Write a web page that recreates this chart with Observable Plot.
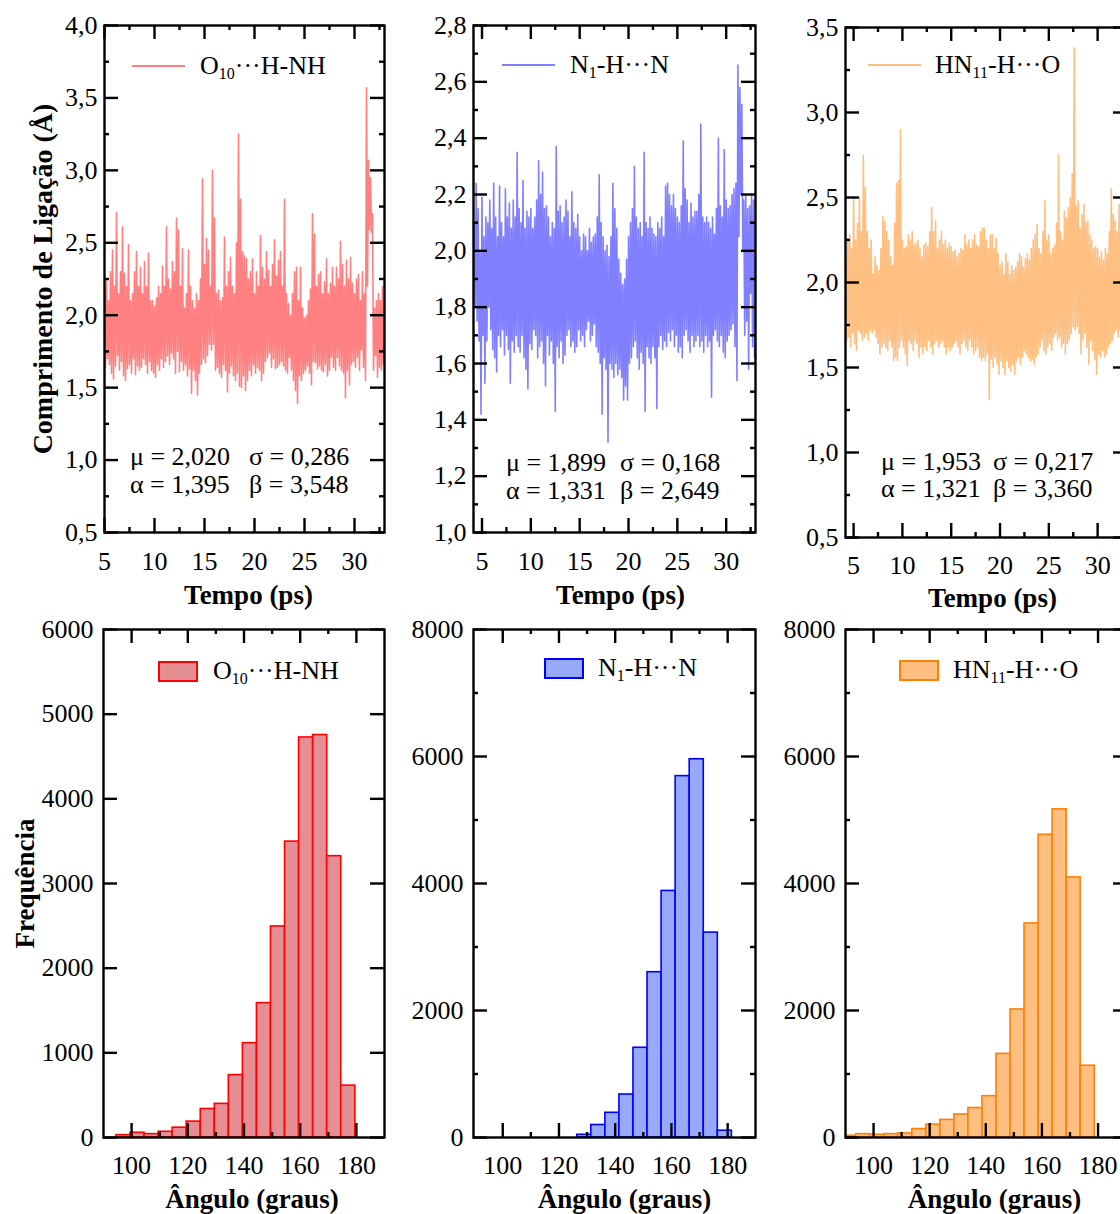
<!DOCTYPE html>
<html><head><meta charset="utf-8">
<script src="https://cdn.jsdelivr.net/npm/d3@7"></script>
<script src="https://cdn.jsdelivr.net/npm/@observablehq/plot@0.6"></script>
<style>
html,body{margin:0;padding:0;background:#fff;overflow:hidden;}
#root{position:relative;width:1120px;height:1214px;overflow:hidden;font-family:"Liberation Serif","Times New Roman",serif;color:#000;}
.sw{position:absolute;box-sizing:border-box;}
.lbl{position:absolute;font-size:26px;line-height:26px;white-space:nowrap;}
.lbl sub{font-size:16px;vertical-align:-5px;line-height:0;}
</style></head><body><div id="root"></div>
<script>
// ---------- time series (bond length, Å): per 0.2 ps step, upper and lower excursion ----------
const tsStep = 0.2;
const o10Start = 5.0;
const o10Hi = [2.20,2.24,2.10,2.30,2.45, 2.20,2.71,2.15,2.30,2.61, 2.29,2.20,2.49,2.10,2.15, 2.30,2.44,2.20,2.33,2.15,
  2.37,2.20,2.43,2.10,2.10, 2.06,2.12,2.20,2.15,2.34, 2.20,2.61,2.25,2.18,2.37, 2.30,2.67,2.59,2.20,2.46,
  2.05,2.15,2.45,2.20,2.10, 2.05,2.15,2.10,2.25,2.94, 2.35,2.53,2.45,2.20,3.00, 2.67,2.15,2.17,2.10,2.12,
  2.54,2.20,2.30,2.40,2.20, 2.15,2.50,3.25,2.80,2.44, 2.41,2.39,2.25,2.30,2.39, 2.15,2.30,2.20,2.55,2.33,
  2.25,2.44,2.31,2.20,2.35, 2.52,2.27,2.38,2.44,2.20, 2.80,2.15,2.08,2.00,2.15, 2.30,2.33,2.10,2.33,2.05,
  1.98,2.00,2.10,2.18,2.70, 2.56,2.20,2.28,2.30,2.15, 2.23,2.39,2.15,2.22,2.33, 2.20,2.33,2.25,2.51,2.35,
  2.20,2.38,2.25,2.40,2.22, 2.15,2.25,2.28,2.10,2.30, 2.15,3.57,3.07,2.95,2.70, 2.05,2.10,2.15,2.10,2.20];
const o10Lo = [1.64,1.70,1.66,1.60,1.56, 1.65,1.72,1.62,1.68,1.58, 1.55,1.63,1.66,1.60,1.70, 1.59,1.65,1.62,1.64,1.70,
  1.66,1.60,1.68,1.62,1.60, 1.57,1.66,1.62,1.70,1.64, 1.68,1.72,1.66,1.74,1.70, 1.60,1.75,1.61,1.68,1.62,
  1.66,1.58,1.63,1.46,1.62, 1.55,1.45,1.60,1.66,1.70, 1.67,1.72,1.80,1.76,1.80, 1.62,1.64,1.60,1.57,1.66,
  1.62,1.47,1.60,1.65,1.58, 1.55,1.60,1.51,1.50,1.58, 1.48,1.55,1.62,1.58,1.66, 1.60,1.64,1.62,1.55,1.60,
  1.68,1.71,1.74,1.64,1.70, 1.63,1.64,1.66,1.68,1.65, 1.62,1.60,1.71,1.62,1.55, 1.48,1.39,1.58,1.55,1.60,
  1.62,1.65,1.60,1.52,1.68, 1.67,1.63,1.65,1.62,1.61, 1.66,1.58,1.62,1.71,1.64, 1.62,1.71,1.65,1.62,1.60,
  1.43,1.62,1.52,1.66,1.68, 1.64,1.71,1.62,1.76,1.64, 1.55,2.20,2.59,2.57,1.62, 1.72,1.57,1.64,1.62,1.66];

const n1Start = 4.2;
const n1Hi = [2.10,2.24,2.15,2.00,2.19, 2.05,2.12,2.10,2.18,2.08, 2.24,2.12,2.05,2.23,2.10, 2.05,2.22,2.12,2.17,2.08,
  2.18,2.12,2.35,2.15,2.10, 2.25,2.08,2.14,2.12,2.15, 2.08,2.12,2.18,2.32,2.20, 2.28,2.15,2.16,2.12,2.05,
  2.10,2.08,2.37,2.14,2.16, 2.10,2.12,2.18,2.14,2.05, 2.21,2.10,2.08,2.13,2.05, 2.00,2.06,2.05,2.00,2.08,
  2.03,2.05,2.06,2.12,2.27, 2.10,2.05,2.00,2.02,1.98, 2.05,2.24,2.15,2.08,1.97, 1.92,1.88,1.90,1.97,2.05,
  2.10,2.15,2.30,2.12,2.08, 2.10,2.05,2.35,2.10,2.08, 2.12,2.08,2.06,2.05,2.10, 2.08,2.12,2.05,2.23,2.24,
  2.20,2.16,2.20,2.15,2.12, 2.10,2.16,2.39,2.22,2.18, 2.10,2.17,2.12,2.14,2.14, 2.20,2.45,2.12,2.10,2.12,
  2.10,2.08,2.12,2.06,2.15, 2.40,2.16,2.12,2.36,2.18, 2.15,2.16,2.20,2.22,2.24, 2.66,2.58,2.52,2.18,2.20,
  2.15,2.16,2.20,2.18,2.10];
const n1Lo = [1.80,1.75,1.68,1.42,1.70, 1.53,1.68,1.80,1.72,1.65, 1.62,1.57,1.70,1.66,1.72, 1.63,1.70,1.65,1.53,1.68,
  1.64,1.70,1.66,1.64,1.70, 1.62,1.58,1.51,1.67,1.65, 1.72,1.70,1.62,1.66,1.68, 1.60,1.52,1.70,1.63,1.68,
  1.60,1.43,1.66,1.62,1.68, 1.60,1.63,1.70,1.72,1.66, 1.68,1.64,1.66,1.72,1.68, 1.70,1.66,1.72,1.75,1.68,
  1.70,1.74,1.66,1.64,1.60, 1.42,1.62,1.58,1.32,1.60, 1.58,1.55,1.60,1.56,1.58, 1.55,1.47,1.52,1.47,1.60,
  1.62,1.66,1.68,1.62,1.58, 1.64,1.60,1.43,1.66,1.62, 1.60,1.66,1.62,1.44,1.66, 1.70,1.65,1.68,1.66,1.71,
  1.68,1.72,1.66,1.70,1.64, 1.66,1.62,1.70,1.72,1.68, 1.64,1.70,1.66,1.68,1.70, 1.66,1.68,1.64,1.70,1.66,
  1.68,1.48,1.70,1.72,1.68, 1.66,1.70,1.64,1.62,1.68, 1.70,1.72,1.74,1.66,1.54, 2.05,2.20,2.00,1.70,1.75,
  1.58,1.85,1.66,1.62,1.70];

const hn11Start = 4.2;
const hn11Hi = [2.15,2.26,2.28,2.20,2.50, 2.25,2.35,2.50,2.30,2.75, 2.56,2.30,2.20,2.25,2.05, 2.15,2.10,2.07,2.20,2.39,
  2.36,2.30,2.25,2.15,2.10, 2.35,2.58,2.60,2.90,2.25, 2.20,2.21,2.28,2.25,2.30, 2.22,2.23,2.25,2.20,2.15,
  2.22,2.23,2.21,2.30,2.44, 2.30,2.36,2.20,2.25,2.30, 2.22,2.25,2.20,2.23,2.21, 2.18,2.19,2.15,2.17,2.20,
  2.19,2.28,2.22,2.25,2.20, 2.25,2.28,2.22,2.21,2.30, 2.32,2.32,2.25,2.20,2.28, 2.28,2.20,2.26,2.17,2.10,
  2.12,2.05,2.17,2.12,2.05, 2.10,2.07,2.09,2.12,2.17, 2.15,2.09,2.14,2.17,2.13, 2.20,2.25,2.28,2.34,2.20,
  2.17,2.30,2.48,2.25,2.28, 2.17,2.20,2.22,2.35,2.75, 2.30,2.25,2.42,2.38,2.44, 2.50,2.64,3.38,2.45,2.48,
  2.32,2.40,2.46,2.35,2.36, 2.28,2.25,2.20,2.21,2.20, 2.15,2.18,2.13,2.20,2.17, 2.30,2.55,2.40,2.36,2.30,
  2.46,2.35,2.30,2.28,2.25];
const hn11Lo = [1.66,1.68,1.62,1.70,1.64, 1.60,1.72,1.70,1.66,1.68, 1.70,1.66,1.72,1.70,1.72, 1.68,1.64,1.58,1.62,1.64,
  1.62,1.60,1.66,1.62,1.54, 1.56,1.54,1.62,1.66,1.62, 1.58,1.51,1.66,1.64,1.60, 1.66,1.64,1.56,1.62,1.58,
  1.62,1.60,1.66,1.62,1.58, 1.64,1.66,1.62,1.64,1.66, 1.62,1.58,1.62,1.60,1.62, 1.64,1.66,1.62,1.58,1.64,
  1.66,1.62,1.60,1.66,1.62, 1.58,1.60,1.62,1.56,1.54, 1.56,1.54,1.58,1.31,1.55, 1.50,1.56,1.52,1.46,1.54,
  1.50,1.46,1.54,1.50,1.48, 1.52,1.46,1.54,1.56,1.52, 1.56,1.60,1.58,1.56,1.54, 1.55,1.52,1.56,1.58,1.62,
  1.66,1.60,1.58,1.62,1.64, 1.60,1.68,1.70,1.66,1.68, 1.62,1.64,1.58,1.64,1.66, 1.70,1.74,1.72,1.74,1.70,
  1.58,1.66,1.70,1.62,1.52, 1.66,1.60,1.55,1.46,1.58, 1.56,1.60,1.56,1.58,1.62, 1.64,1.66,1.70,1.72,1.68,
  1.72,1.70,1.66,1.68,1.70];

// ---------- angle histograms (counts per 5° bin) ----------
const binWidth = 5;
const o10BinStart = 94.6;
const o10Counts = [28,56,40,68,116,188,337,397,737,1114,1587,2493,3495,4725,4754,3323,613];
const n1BinStart = 126.5;
const n1Counts = [43,197,389,677,1413,2603,3883,5691,5957,3227,107];
const hn11BinStart = 88.8;
const hn11Counts = [27,53,43,53,64,133,203,277,363,464,651,1317,2016,3371,4768,5168,4096,1131];

// ---------- tick values ----------
const tsXMajor = [5,10,15,20,25,30];
const tsXMinor = [7.5,12.5,17.5,22.5,27.5,32.5];
const y1Major = [0.5,1.0,1.5,2.0,2.5,3.0,3.5,4.0];
const y1Minor = [0.75,1.25,1.75,2.25,2.75,3.25,3.75];
const y2Major = [1.0,1.2,1.4,1.6,1.8,2.0,2.2,2.4,2.6,2.8];
const y2Minor = [1.1,1.3,1.5,1.7,1.9,2.1,2.3,2.5,2.7];
const y3Major = [0.5,1.0,1.5,2.0,2.5,3.0,3.5];
const y3Minor = [0.75,1.25,1.75,2.25,2.75,3.25];
const hXMajor = [100,120,140,160,180];
const hXMinor = [110,130,150,170];
const h1YMajor = [0,1000,2000,3000,4000,5000,6000];
const h1YMinor = [];
const h2YMajor = [0,2000,4000,6000,8000];
const h2YMinor = [1000,3000,5000,7000];

const labels = {
  series: ["O<sub>10</sub>···H-NH", "N<sub>1</sub>-H···N", "HN<sub>11</sub>-H···O"],
  yTs: "Comprimento de Ligação (Å)",
  xTs: "Tempo (ps)",
  yH: "Frequência",
  xH: "Ângulo (graus)"
};
const stats = [
  ["μ = 2,020", "σ = 0,286", "α = 1,395", "β = 3,548"],
  ["μ = 1,899", "σ = 0,168", "α = 1,331", "β = 2,649"],
  ["μ = 1,953", "σ = 0,217", "α = 1,321", "β = 3,360"]
];

const root = document.getElementById("root");

function zig(start, hi, lo) {
  const out = [];
  hi.forEach((h, i) => {
    out.push({t: start + i * tsStep, v: h});
    out.push({t: start + i * tsStep + tsStep / 2, v: lo[i]});
  });
  return out;
}
function bins(start, counts) {
  return counts.map((c, i) => ({x1: start + i * binWidth, x2: start + (i + 1) * binWidth, n: c}));
}

const fmt1 = d => d.toFixed(1).replace(".", ",");
const fmt0 = d => String(d);

function panel(c) {
  const mL = 100, mR = 12, mT = 12, mB = 90;
  const iw = c.fw, ih = c.fh;
  const K = "#000", SW = 2.4, LM = 14, LS = 5;
  const marks = [
    ...c.marks,
    Plot.frame({stroke: K, strokeWidth: SW}),
    Plot.tickX(c.xMajor, {x: d => d, insetTop: ih - LM, stroke: K, strokeWidth: SW}),
    Plot.tickX(c.xMajor, {x: d => d, insetBottom: ih - LM, stroke: K, strokeWidth: SW}),
    Plot.tickX(c.xMinor, {x: d => d, insetTop: ih - LS, stroke: K, strokeWidth: SW}),
    Plot.tickX(c.xMinor, {x: d => d, insetBottom: ih - LS, stroke: K, strokeWidth: SW}),
    Plot.tickY(c.yMajor, {y: d => d, insetRight: iw - LM, stroke: K, strokeWidth: SW}),
    Plot.tickY(c.yMajor, {y: d => d, insetLeft: iw - LM, stroke: K, strokeWidth: SW}),
    Plot.tickY(c.yMinor, {y: d => d, insetRight: iw - LS, stroke: K, strokeWidth: SW}),
    Plot.tickY(c.yMinor, {y: d => d, insetLeft: iw - LS, stroke: K, strokeWidth: SW}),
    Plot.axisX({anchor: "bottom", ticks: c.xMajor, tickSize: 0, tickPadding: c.xPad, tickFormat: fmt0, label: null, fontSize: 26}),
    Plot.axisY({anchor: "left", ticks: c.yMajor, tickSize: 0, tickPadding: c.yPad, tickFormat: c.yFmt, label: null, fontSize: 26}),
    Plot.text([c.xTitle], {text: d => d, frameAnchor: "bottom", dx: c.xtDx, dy: c.xtDy, textAnchor: "middle", lineAnchor: "middle", fontWeight: "bold", fontSize: 27}),
  ];
  if (c.yTitle) marks.push(Plot.text([c.yTitle], {text: d => d, frameAnchor: "left", dx: c.ytDx, rotate: -90, textAnchor: "middle", lineAnchor: "middle", fontWeight: "bold", fontSize: c.ytSize}));
  const svg = Plot.plot({
    width: iw + mL + mR, height: ih + mT + mB,
    marginLeft: mL, marginRight: mR, marginTop: mT, marginBottom: mB,
    x: {domain: c.xDomain}, y: {domain: c.yDomain},
    style: {fontFamily: "Liberation Serif, Times New Roman, serif", fontSize: "26px", color: "#000", background: "transparent", overflow: "visible", maxWidth: "none"},
    marks
  });
  svg.style.position = "absolute";
  svg.style.left = (c.fx - mL) + "px";
  svg.style.top = (c.fy - mT) + "px";
  root.appendChild(svg);
}

function lineLegend(x, y, color, tx, html) {
  const s = document.createElement("div");
  s.className = "sw";
  s.style.cssText = `left:${x}px;top:${y - 0.75}px;width:53px;height:1.5px;background:${color}`;
  root.appendChild(s);
  const t = document.createElement("div");
  t.className = "lbl"; t.innerHTML = html;
  t.style.left = tx + "px"; t.style.top = (y - 13) + "px";
  root.appendChild(t);
}
function boxLegend(x, y, fill, stroke, tx, html) {
  const s = document.createElement("div");
  s.className = "sw";
  s.style.cssText = `left:${x}px;top:${y - 10}px;width:40px;height:21px;background:${fill};border:2px solid ${stroke}`;
  root.appendChild(s);
  const t = document.createElement("div");
  t.className = "lbl"; t.innerHTML = html;
  t.style.left = tx + "px"; t.style.top = (y - 13) + "px";
  root.appendChild(t);
}
function statText(st, x1, x2, y1, y2) {
  [[st[0], x1, y1], [st[1], x2, y1], [st[2], x1, y2], [st[3], x2, y2]].forEach(([s, x, y]) => {
    const t = document.createElement("div");
    t.className = "lbl"; t.textContent = s;
    t.style.left = x + "px"; t.style.top = (y - 13) + "px";
    root.appendChild(t);
  });
}

const col = {
  l1: "#ff8080", l2: "#8080ff", l3: "#ffbf80",
  f1: "#e58e93", s1: "#ff0000", f2: "#97a9f8", s2: "#0000ff", f3: "#ffbf80", s3: "#ff8000"
};
const LW = 1.6;

// top row: bond length vs time
panel({fx: 104, fy: 25, fw: 280, fh: 507, xDomain: [5, 33], yDomain: [0.5, 4.0],
  xMajor: tsXMajor, xMinor: tsXMinor, yMajor: y1Major, yMinor: y1Minor, yFmt: fmt1, xPad: 19, yPad: 7,
  xTitle: labels.xTs, xtDx: 4, xtDy: 63, yTitle: labels.yTs, ytDx: -61, ytSize: 28,
  marks: [Plot.line(zig(o10Start, o10Hi, o10Lo), {x: "t", y: "v", stroke: col.l1, strokeWidth: LW, clip: true})]});
panel({fx: 473, fy: 25, fw: 282, fh: 507, xDomain: [4.13, 33], yDomain: [1.0, 2.8],
  xMajor: tsXMajor, xMinor: tsXMinor, yMajor: y2Major, yMinor: y2Minor, yFmt: fmt1, xPad: 19, yPad: 7,
  xTitle: labels.xTs, xtDx: 6, xtDy: 63,
  marks: [Plot.line(zig(n1Start, n1Hi, n1Lo), {x: "t", y: "v", stroke: col.l2, strokeWidth: LW, clip: true})]});
panel({fx: 845, fy: 27, fw: 282, fh: 510, xDomain: [4.17, 33.06], yDomain: [0.5, 3.5],
  xMajor: tsXMajor, xMinor: tsXMinor, yMajor: y3Major, yMinor: y3Minor, yFmt: fmt1, xPad: 18, yPad: 7,
  xTitle: labels.xTs, xtDx: 6, xtDy: 61,
  marks: [Plot.line(zig(hn11Start, hn11Hi, hn11Lo), {x: "t", y: "v", stroke: col.l3, strokeWidth: LW, clip: true})]});

// bottom row: angle histograms
panel({fx: 103, fy: 629, fw: 281, fh: 508, xDomain: [90, 190], yDomain: [0, 6000],
  xMajor: hXMajor, xMinor: hXMinor, yMajor: h1YMajor, yMinor: h1YMinor, yFmt: fmt0, xPad: 18, yPad: 10,
  xTitle: labels.xH, xtDx: 8, xtDy: 62, yTitle: labels.yH, ytDx: -78, ytSize: 27,
  marks: [Plot.rectY(bins(o10BinStart, o10Counts), {x1: "x1", x2: "x2", y: "n", fill: col.f1, stroke: col.s1, strokeWidth: 1.6, clip: true})]});
panel({fx: 473, fy: 629, fw: 282, fh: 508, xDomain: [89.6, 189.9], yDomain: [0, 8000],
  xMajor: hXMajor, xMinor: hXMinor, yMajor: h2YMajor, yMinor: h2YMinor, yFmt: fmt0, xPad: 18, yPad: 10,
  xTitle: labels.xH, xtDx: 10, xtDy: 62,
  marks: [Plot.rectY(bins(n1BinStart, n1Counts), {x1: "x1", x2: "x2", y: "n", fill: col.f2, stroke: col.s2, strokeWidth: 1.6, clip: true})]});
panel({fx: 845, fy: 629, fw: 282, fh: 508, xDomain: [90, 190.5], yDomain: [0, 8000],
  xMajor: hXMajor, xMinor: hXMinor, yMajor: h2YMajor, yMinor: h2YMinor, yFmt: fmt0, xPad: 18, yPad: 10,
  xTitle: labels.xH, xtDx: 8, xtDy: 62,
  marks: [Plot.rectY(bins(hn11BinStart, hn11Counts), {x1: "x1", x2: "x2", y: "n", fill: col.f3, stroke: col.s3, strokeWidth: 1.6, clip: true})]});

// legends and statistics
lineLegend(132, 66, col.l1, 200, labels.series[0]);
lineLegend(502, 65, col.l2, 570, labels.series[1]);
lineLegend(868, 65, col.l3, 935, labels.series[2]);
boxLegend(158, 671, col.f1, col.s1, 213, labels.series[0]);
boxLegend(544, 668, col.f2, col.s2, 598, labels.series[1]);
boxLegend(899, 670, col.f3, col.s3, 953, labels.series[2]);
statText(stats[0], 130, 249, 457, 485);
statText(stats[1], 506, 620, 463, 491);
statText(stats[2], 881, 993, 462, 489);
</script></body></html>
